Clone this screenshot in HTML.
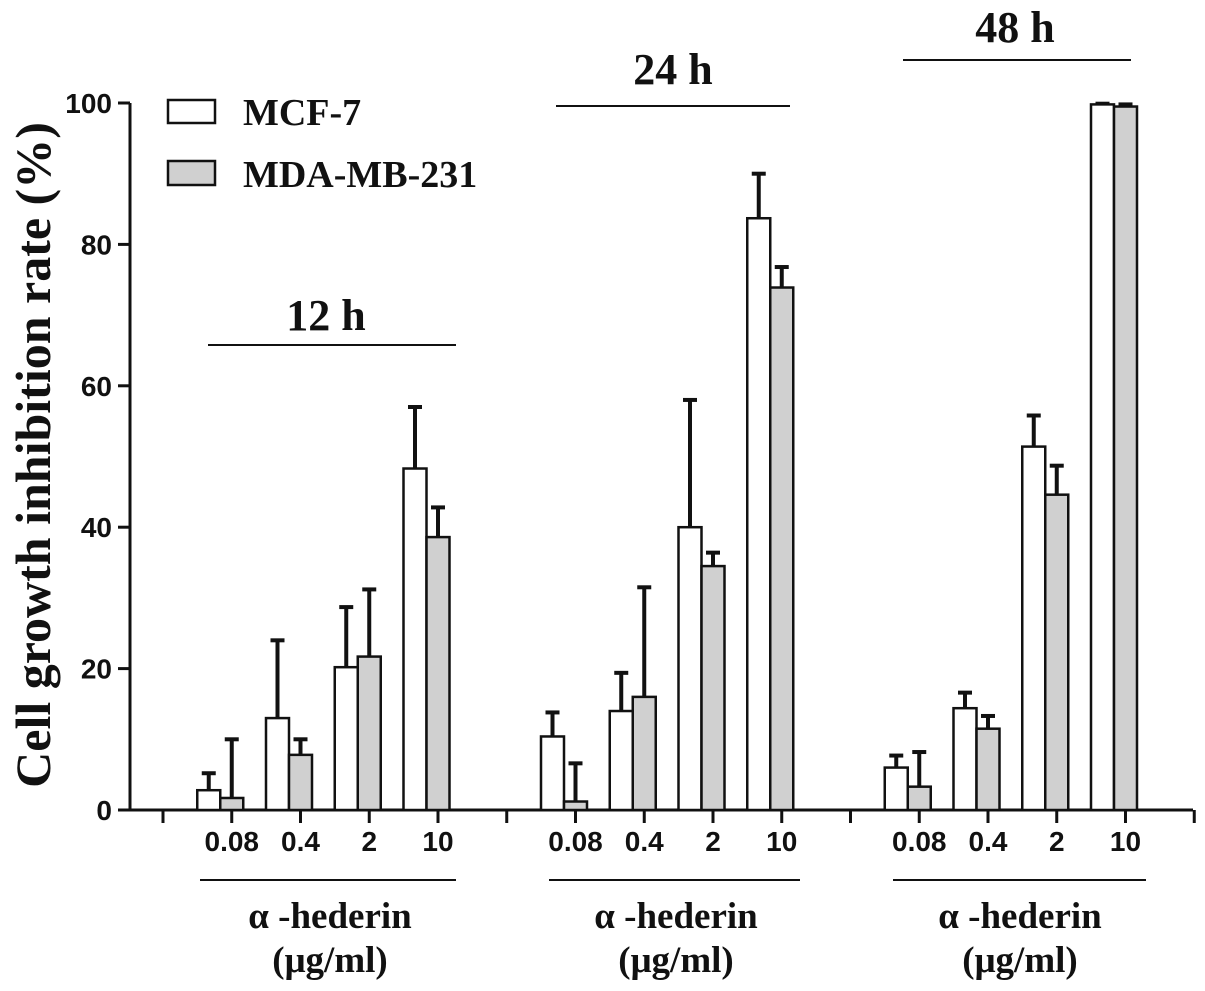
<!DOCTYPE html>
<html><head><meta charset="utf-8"><style>
html,body{margin:0;padding:0;background:#fff;}
svg{display:block;}
.tk{font-family:"Liberation Sans",Arial,sans-serif;font-weight:bold;font-size:28px;fill:#111;}
.tm{font-family:"Liberation Serif","Times New Roman",serif;font-weight:bold;fill:#111;}
</style></head><body>
<svg id="chart" width="1205" height="991" viewBox="0 0 1205 991">
<g id="static" stroke="#111" fill="none" stroke-width="3">
<line x1="130" y1="103" x2="130" y2="811"/>
<line x1="130" y1="810" x2="1193" y2="810"/>
<line x1="208" y1="345" x2="456" y2="345" stroke-width="2"/>
<line x1="556" y1="106" x2="790" y2="106" stroke-width="2"/>
<line x1="903" y1="60" x2="1131" y2="60" stroke-width="2"/>
<line x1="200" y1="880" x2="456" y2="880" stroke-width="2"/>
<line x1="549" y1="880" x2="800" y2="880" stroke-width="2"/>
<line x1="893" y1="880" x2="1146" y2="880" stroke-width="2"/>
<rect x="168" y="100" width="47" height="23" fill="#fff" stroke-width="2.5"/>
<rect x="168" y="161" width="47" height="24" fill="#d0d0d0" stroke-width="2.5"/>
</g>
<text class="tm" x="243" y="125" font-size="38">MCF-7</text>
<text class="tm" x="243" y="187" font-size="38">MDA-MB-231</text>
<text class="tm" x="326" y="330" font-size="44" text-anchor="middle">12 h</text>
<text class="tm" x="673" y="84" font-size="44" text-anchor="middle">24 h</text>
<text class="tm" x="1015" y="42" font-size="44" text-anchor="middle">48 h</text>
<text class="tm" font-size="50" text-anchor="middle" transform="translate(50,455) rotate(-90)">Cell growth inhibition rate (%)</text>
<g><text class="tm" x="330" y="928" font-size="37" text-anchor="middle">α -hederin</text><text class="tm" x="330" y="972" font-size="37" text-anchor="middle">(μg/ml)</text></g>
<g><text class="tm" x="676" y="928" font-size="37" text-anchor="middle">α -hederin</text><text class="tm" x="676" y="972" font-size="37" text-anchor="middle">(μg/ml)</text></g>
<g><text class="tm" x="1020" y="928" font-size="37" text-anchor="middle">α -hederin</text><text class="tm" x="1020" y="972" font-size="37" text-anchor="middle">(μg/ml)</text></g>
<g id="marks"></g>
</svg>
<script>
const categories = ["0.08","0.4","2","10"];
const groups = ["12 h","24 h","48 h"];
const yTicks = [0,20,40,60,80,100];
const mcf7 = [2.8,13,20.2,48.3, 10.4,14,40,83.7, 6,14.4,51.4,99.8];
const mcf7Err = [2.4,11,8.5,8.7, 3.4,5.4,18,6.3, 1.7,2.2,4.4,0.1];
const mda = [1.7,7.8,21.7,38.6, 1.2,16,34.5,73.9, 3.3,11.5,44.6,99.5];
const mdaErr = [8.3,2.2,9.5,4.2, 5.4,15.5,1.9,2.9, 4.9,1.8,4.1,0.3];

const NS = "http://www.w3.org/2000/svg";
const g = document.getElementById("marks");
const y = v => 810 - v * 7.07;
const slotX = s => 163 + s * 68.75;
const barW = 23;
function mk(tag, attrs){const e=document.createElementNS(NS,tag);for(const k in attrs)e.setAttribute(k,attrs[k]);g.appendChild(e);return e;}

yTicks.forEach(t=>{
  const l = mk("line",{x1:118,x2:130,y1:y(t),y2:y(t),stroke:"#111","stroke-width":3});
  
  
  const tx = mk("text",{x:112,y:y(t)+10,"text-anchor":"end",class:"tk"});
  tx.textContent = t;
  
  
});
const nSlots = groups.length*(categories.length+1)+1;
for(let s=0;s<nSlots;s++){
  const l = mk("line",{x1:slotX(s),x2:slotX(s),y1:810,y2:823,stroke:"#111","stroke-width":3});
  
  
}
groups.forEach((gr,gi)=>{
  categories.forEach((c,ci)=>{
    const i = gi*categories.length+ci;
    const cx = slotX(gi*(categories.length+1)+ci+1);
    const lab = mk("text",{x:cx,y:851,"text-anchor":"middle",class:"tk"});
    lab.textContent = c;
    
    
    [[mcf7,mcf7Err,"#fff",cx-barW*1.5,"bar-mcf7"],[mda,mdaErr,"#d0d0d0",cx-barW/2,"bar-mda"]].forEach(([vals,errs,fill,x0,name])=>{
      const v = vals[i], e = errs[i];
      const bx = x0+barW/2;
      const el = mk("line",{x1:bx,x2:bx,y1:y(v),y2:y(v+e),stroke:"#111","stroke-width":4});
      
      
      const cap = mk("line",{x1:bx-7,x2:bx+7,y1:y(v+e),y2:y(v+e),stroke:"#111","stroke-width":4});
      
      
      const r = mk("rect",{x:x0,y:y(v),width:barW,height:810-y(v),fill:fill,stroke:"#111","stroke-width":2.5});
      
      
    });
  });
});
</script>
</body></html>
